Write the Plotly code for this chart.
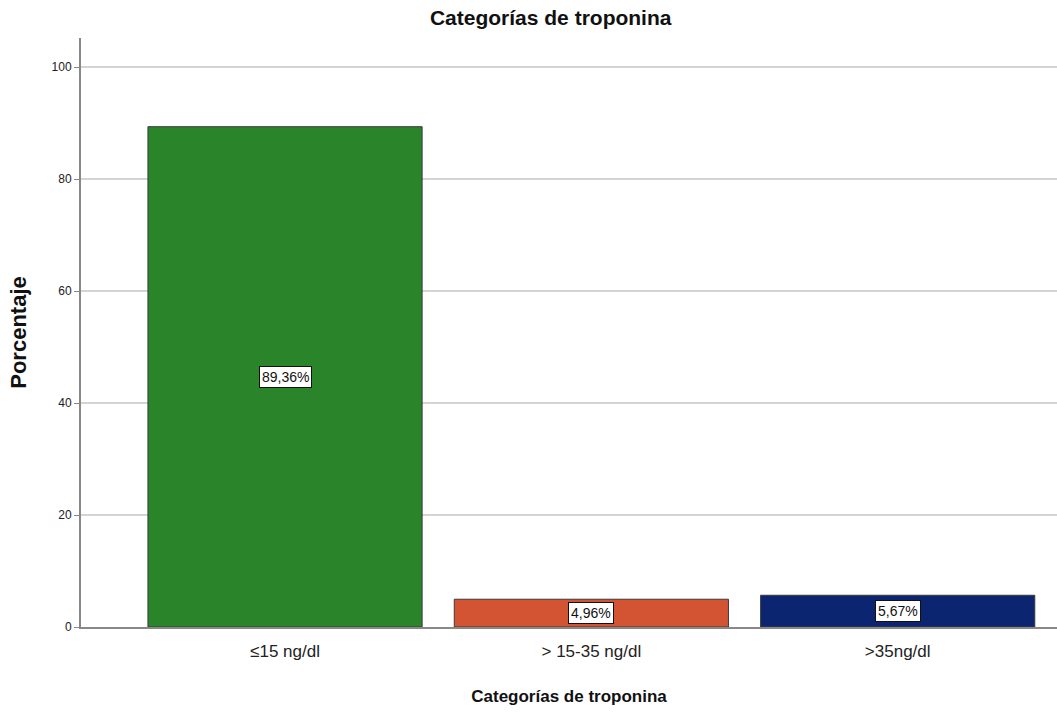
import plotly.graph_objects as go

categorias = ["≤15 ng/dl", "> 15-35 ng/dl", ">35ng/dl"]
porcentajes = [89.36, 4.96, 5.67]
etiquetas = ["89,36%", "4,96%", "5,67%"]
colores = ["#2a852a", "#d25433", "#0c2571"]

FONT = "Liberation Sans, Arial, sans-serif"

fig = go.Figure()
fig.add_trace(go.Bar(
    x=list(range(len(categorias))),
    y=porcentajes,
    width=0.895,
    marker=dict(color=colores, line=dict(color="#3a3a3a", width=1)),
    hoverinfo="skip",
))

for i, (v, t) in enumerate(zip(porcentajes, etiquetas)):
    fig.add_annotation(
        x=i, y=v / 2, text=t, showarrow=False,
        font=dict(family=FONT, size=14, color="#111"),
        bgcolor="white", bordercolor="#111", borderwidth=1, borderpad=2,
    )

fig.update_layout(
    width=1057, height=713,
    margin=dict(l=81, r=0, t=38, b=86),
    plot_bgcolor="white", paper_bgcolor="white",
    showlegend=False,
    font=dict(family=FONT, color="#222"),
    title=dict(text="<b>Categorías de troponina</b>", x=0.521, xanchor="center",
               y=0.975, yanchor="middle", font=dict(size=21, color="#111")),
    xaxis=dict(
        range=[-0.666, 2.52],
        tickmode="array", tickvals=list(range(len(categorias))), ticktext=categorias,
        tickfont=dict(size=17, color="#222"),
        showgrid=False, zeroline=False,
        showline=True, linecolor="#888", linewidth=1.5,
        ticks="", ticklabelstandoff=8,
        title=dict(text="<b>Categorías de troponina</b>", font=dict(size=17, color="#111"), standoff=30),
    ),
    yaxis=dict(
        range=[0, 105.2],
        tickvals=[0, 20, 40, 60, 80, 100],
        tickfont=dict(size=12, color="#222"),
        showgrid=True, gridcolor="#d4d4d4", gridwidth=2,
        zeroline=False,
        showline=True, linecolor="#888", linewidth=2,
        ticks="outside", ticklen=5, tickcolor="#888",
        title=dict(text="<b>Porcentaje</b>", font=dict(size=22, color="#111"), standoff=19),
    ),
)

fig.write_html("out.html")
